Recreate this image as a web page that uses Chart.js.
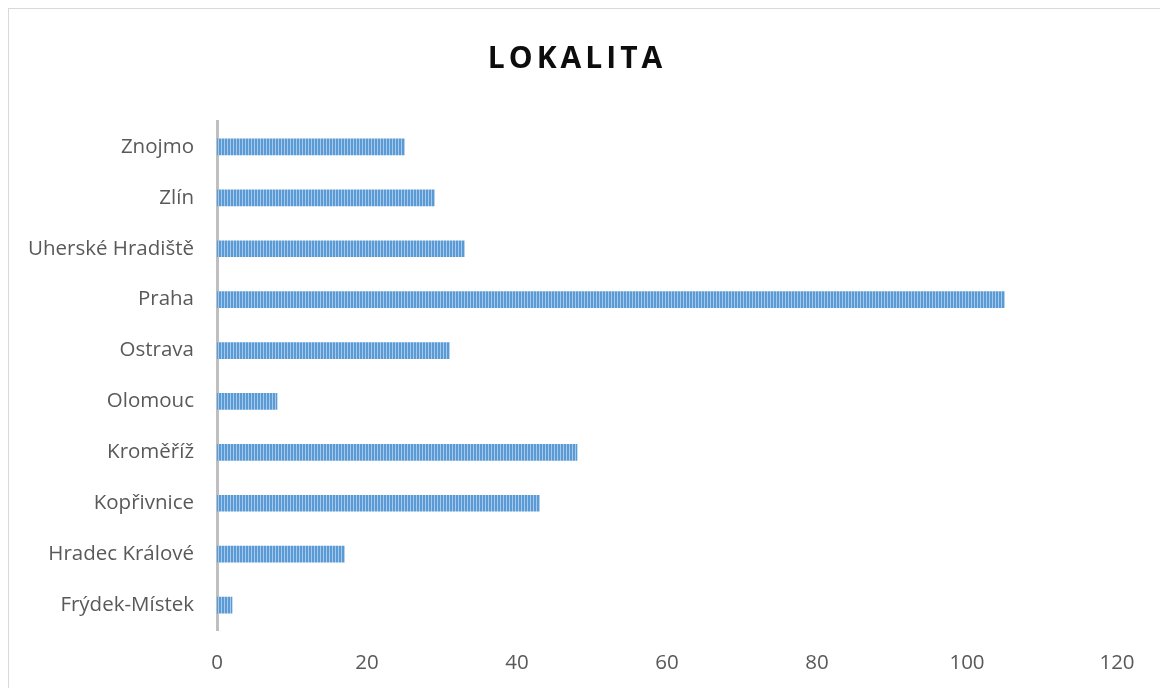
<!DOCTYPE html>
<html>
<head>
<meta charset="utf-8">
<script src="https://cdn.jsdelivr.net/npm/chart.js@4.4.1/dist/chart.umd.min.js"></script>
<style>
  html, body { margin: 0; padding: 0; background: #ffffff; }
  #frame { position: absolute; left: 8px; top: 8px; width: 1170px; height: 700px; border: 1px solid #d9d9d9; box-sizing: border-box; }
  #c { position: absolute; left: 0; top: 0; }
</style>
</head>
<body>
<div id="frame"></div>
<canvas id="c" width="1160" height="688"></canvas>
<script>
const chartTitle = 'LOKALITA';
const categories = ['Frýdek-Místek', 'Hradec Králové', 'Kopřivnice', 'Kroměříž', 'Olomouc', 'Ostrava', 'Praha', 'Uherské Hradiště', 'Zlín', 'Znojmo'];
const values = [2, 17, 43, 48, 8, 31, 105, 33, 29, 25];
const xTicks = [0, 20, 40, 60, 80, 100, 120];

function stripePattern() {
  const p = document.createElement('canvas');
  p.width = 3; p.height = 4;
  const g = p.getContext('2d');
  g.fillStyle = '#5b9bd5';
  g.fillRect(0, 0, 2, 4);
  g.fillStyle = '#a6c8ea';
  g.fillRect(2, 0, 1, 4);
  return document.getElementById('c').getContext('2d').createPattern(p, 'repeat');
}

const spacedTitle = {
  id: 'spacedTitle',
  afterInit(chart) {
    const tb = chart.titleBlock;
    if (tb && !tb._wrapped) {
      const orig = tb.draw.bind(tb);
      tb.draw = function () {
        const ctx = chart.ctx;
        ctx.save();
        ctx.letterSpacing = '4px';
        ctx.translate(18.5, 0);
        orig();
        ctx.restore();
      };
      tb._wrapped = true;
    }
  }
};

const FONT = "'Open Sans', 'DejaVu Sans', sans-serif";

new Chart(document.getElementById('c'), {
  type: 'bar',
  data: {
    labels: categories,
    datasets: [{
      data: values,
      backgroundColor: stripePattern(),
      borderWidth: 0,
      barThickness: 16
    }]
  },
  options: {
    responsive: false,
    animation: false,
    indexAxis: 'y',
    layout: { padding: { left: 0, right: 43, top: 0, bottom: 0 } },
    plugins: {
      legend: { display: false },
      tooltip: { enabled: false },
      title: {
        display: true,
        text: chartTitle,
        color: '#0d0d0d',
        font: { family: FONT, size: 30, weight: 'bold', lineHeight: 1.2 },
        padding: { top: 41.5, bottom: 44 }
      }
    },
    scales: {
      x: {
        type: 'linear',
        min: 0,
        max: 120,
        afterBuildTicks(scale) { scale.ticks = xTicks.map(v => ({ value: v })); },
        afterFit(scale) { scale.height = 57.5; },
        grid: { display: false, drawTicks: false },
        border: { display: false },
        ticks: { color: '#595959', padding: 20, font: { family: FONT, size: 20.5 } }
      },
      y: {
        reverse: true,
        z: 1,
        afterFit(scale) { scale.width = 217; },
        grid: { display: false, drawTicks: false },
        border: { display: true, color: '#bfbfbf', width: 3 },
        ticks: { color: '#595959', padding: 23, font: { family: FONT, size: 20.5 } }
      }
    }
  },
  plugins: [spacedTitle]
});
</script>
</body>
</html>
